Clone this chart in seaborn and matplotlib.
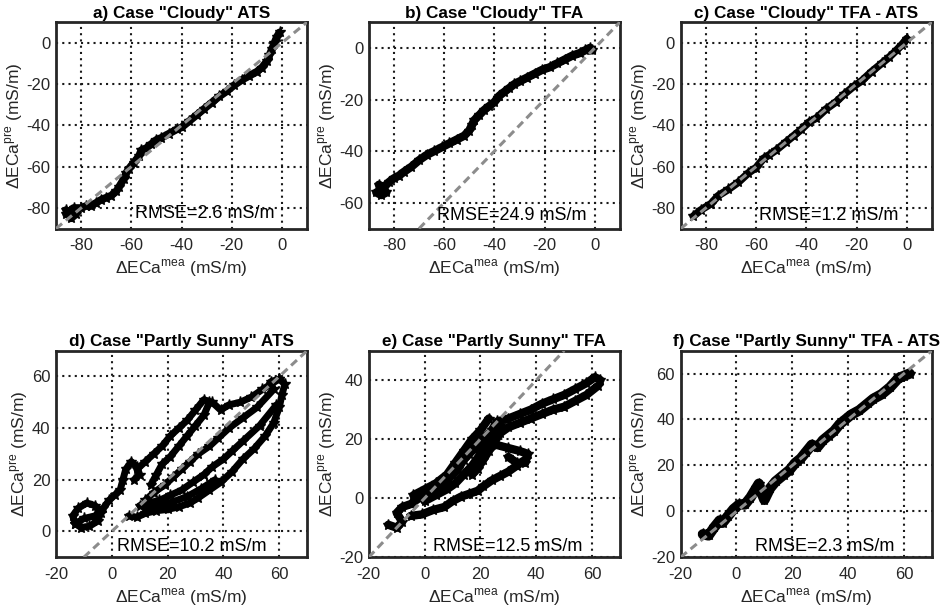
import matplotlib
matplotlib.use('Agg')
import matplotlib.pyplot as plt
import seaborn as sns
import pandas as pd

# --- data read off the reference (dEC measured vs. predicted, mS/m) ---
# a) Cloudy ATS
a_x = [-86, -84, -82, -86, -83, -80, -78, -76, -74, -72, -70, -68, -66, -65, -63, -62, -61,
       -59, -57, -56, -54, -52, -50, -48, -45, -42, -40, -37, -34, -31, -28, -25, -22, -19,
       -16, -13, -10, -8, -6, -5, -4, -3, -2, -1]
a_y = [-81, -85, -83, -83, -80, -80, -79, -79, -77.5, -76, -75, -74, -72, -70, -66, -63, -61,
       -58, -55, -52, -51, -49, -47, -46, -44, -42, -41, -38, -35, -32, -29, -26, -23.5, -20.5,
       -18, -16, -14, -12, -9, -6, -3, 0, 3, 5]

# b) Cloudy TFA
b_x = [-87, -85, -83, -86, -84, -82, -80, -78, -76, -73, -70, -67, -64, -61, -58, -55, -52,
       -50, -49, -48, -46, -44, -42, -40, -38, -36, -34, -32, -30, -27, -24, -21, -18, -15,
       -12, -9, -6, -4, -2, -1]
b_y = [-56, -57, -56, -53, -54, -52, -50.5, -49.5, -48, -46, -43.5, -41.5, -40, -38.5, -37,
       -35.5, -34, -32, -30, -28, -26, -24, -22.5, -21, -18.5, -17, -15.5, -14, -13, -11.5,
       -10, -8.5, -7.5, -6, -4.5, -3, -2, -1, 0, -1]

# c) Cloudy TFA - ATS
c_x = [-85, -82, -78, -75, -71, -67, -63, -60, -57, -55, -52, -48, -45, -42, -39, -36, -32,
       -28, -25, -21, -18, -14, -10, -7, -4, -2, 0]
c_y = [-84, -81, -78, -74, -71, -67.5, -63, -60.5, -56, -54.5, -52, -48, -45, -42, -38.5,
       -36.5, -32, -28.5, -25, -21, -18.5, -14, -10, -7, -3.5, -1, 2]

# d) Partly Sunny ATS (several loops -> segment ids)
d_x = [-13, -11, -8, -5, -4, -6, -9, -12, -14, -13, -10, -6, -3, -1, 1, 3, 4, 5, 7, 9, 10, 8,
       6, 9, 12, 16, 20, 24, 28, 31, 35, 39, 43, 47, 51, 55, 58, 60, 61, 62, 60, 57,
       59, 53, 47, 43, 40, 36, 33, 29, 25, 21, 17, 13, 10,
       58, 52, 47, 42, 38, 35, 31, 28, 25, 22, 19, 15, 12,
       9, 12, 15, 18, 21, 24, 27, 30, 33, 36, 39, 42, 46, 50, 54, 57, 60,
       35, 33, 30, 27, 24, 21, 18, 16, 14,
       12, 17, 22, 27, 32, 37]
d_y = [3, 1.5, 2, 4, 7, 10, 11, 9, 6, 3, 5, 6, 9, 12, 14, 16, 20, 24, 27, 25, 22, 20,
       6, 5.5, 7, 8, 8.5, 9.5, 11, 13, 16, 19, 23, 28, 32, 37, 42, 48, 53, 57, 59, 58,
       49, 41, 35, 31, 28, 25, 22, 19, 16, 14, 12, 11, 10,
       55, 48, 44, 40, 36, 33, 30, 27, 24, 21, 18, 15, 12,
       24, 27, 30, 33, 37, 40, 43, 47, 51, 50, 47, 49, 50, 52, 55, 57, 59,
       50, 45, 41, 37, 33, 29, 26, 22, 18,
       9, 10, 11.5, 13.5, 16.5, 20]
d_seg = [0] * 22 + [1] * 20 + [2] * 13 + [3] * 13 + [4] * 17 + [5] * 9 + [6] * 6

# e) Partly Sunny TFA
e_x = [-13, -10, -8, -10, -8, -5, -2, 1, 4, 7, 10, 12, 14, 16, 18, 20, 22, 24, 26, 30, 34, 38,
       42, 46, 50, 54, 58, 61, 63,
       62, 58, 54, 50, 46, 42, 38, 34, 30, 27, 25, 23, 21, 19, 17,
       -5, -1, 3, 7, 10, 13, 16, 19, 21, 24, 27, 30, 33, 36,
       22, 26, 30, 34, 37, 36, 33, 30,
       0, 4, 8, 11, 14, 17, 20, 23, 25, 28,
       -4, 0, 4, 8, 11, 14, 17, 20, 23]
e_y = [-9, -10, -8, -5, -3, -2, 0, 1.5, 3, 5, 8, 10, 13, 15, 17, 19, 21, 23, 26, 27, 28.5, 30,
       32, 33.5, 35, 37, 39, 41, 40,
       38, 35, 33, 31, 30, 28.5, 27, 25.5, 24, 22, 19, 16, 13, 10, 8,
       -6, -5.5, -4, -3, -1, 0.5, 1.5, 2.5, 4, 6, 7.5, 9, 11, 13,
       20, 18, 17, 16, 15, 12, 12, 14,
       -1, 1, 3, 5, 8, 11, 15, 19, 22, 24,
       1, 3, 5, 8, 12, 16, 20, 23, 27]
e_seg = [0] * 29 + [1] * 15 + [2] * 14 + [3] * 8 + [4] * 10 + [5] * 9

# f) Partly Sunny TFA - ATS
f_x = [-12, -10, -8, -6, -5, -3, -1, 1, 3, 5, 7, 8, 9, 10, 12, 14, 17, 19, 21, 23, 25, 27, 29,
       31, 33, 35, 37, 39, 41, 44, 47, 49, 52, 55, 58, 60, 62]
f_y = [-10, -10.5, -7, -4, -5, -2, 1, 3, 3, 6, 10, 12, 8, 5, 10, 13, 16, 18, 21, 23, 26, 29, 28,
       31, 33, 35, 38, 40, 42, 44, 47, 49, 51, 54, 58, 59, 60]

titles = ['a) Case "Cloudy" ATS', 'b) Case "Cloudy" TFA', 'c) Case "Cloudy" TFA - ATS',
          'd) Case "Partly Sunny" ATS', 'e) Case "Partly Sunny" TFA',
          'f) Case "Partly Sunny" TFA - ATS']
rmse_labels = ['RMSE=2.6 mS/m', 'RMSE=24.9 mS/m', 'RMSE=1.2 mS/m',
               'RMSE=10.2 mS/m', 'RMSE=12.5 mS/m', 'RMSE=2.3 mS/m']
xlims = [(-90, 10), (-90, 10), (-90, 10), (-20, 70), (-20, 70), (-20, 70)]
ylims = [(-90, 10), (-70, 10), (-90, 10), (-10, 70), (-20, 50), (-20, 70)]
xticks = [[-80, -60, -40, -20, 0]] * 3 + [[-20, 0, 20, 40, 60]] * 3
yticks = [[-80, -60, -40, -20, 0], [-60, -40, -20, 0], [-80, -60, -40, -20, 0],
          [0, 20, 40, 60], [-20, 0, 20, 40], [-20, 0, 20, 40, 60]]
# band thickness differs a bit from panel to panel
band_width = [5.5, 6.0, 5.5, 5.0, 6.0, 7.5]

sns.set_theme(style='white')
plt.rcParams['font.family'] = ['Liberation Sans', 'DejaVu Sans']
plt.rcParams['mathtext.fontset'] = 'custom'
plt.rcParams['mathtext.rm'] = 'Liberation Sans'
plt.rcParams['axes.unicode_minus'] = False

frames = [
    pd.DataFrame({'x': a_x, 'y': a_y, 'seg': 0}),
    pd.DataFrame({'x': b_x, 'y': b_y, 'seg': 0}),
    pd.DataFrame({'x': c_x, 'y': c_y, 'seg': 0}),
    pd.DataFrame({'x': d_x, 'y': d_y, 'seg': d_seg}),
    pd.DataFrame({'x': e_x, 'y': e_y, 'seg': e_seg}),
    pd.DataFrame({'x': f_x, 'y': f_y, 'seg': 0}),
]

# axes boxes in figure fractions (left, bottom, width, height)
lefts = [0.059, 0.389, 0.718]
bottoms = [0.627, 0.091]
text_pos = [(0.315, 0.072), (0.273, 0.063), (0.312, 0.065),
            (0.244, 0.053), (0.257, 0.053), (0.295, 0.05)]

fig = plt.figure(figsize=(9.48, 6.13), dpi=100)
dark = '#262626'

for i, df in enumerate(frames):
    ax = fig.add_axes([lefts[i % 3], bottoms[i // 3], 0.265, 0.337])
    sns.lineplot(data=df, x='x', y='y', units='seg', estimator=None, sort=False,
                 color='black', linewidth=band_width[i], marker='*', markersize=8,
                 markeredgecolor='black', markeredgewidth=1.0,
                 solid_joinstyle='round', solid_capstyle='round', ax=ax)
    # 1:1 line
    ax.axline((0, 0), slope=1, color='#8c8c8c', linestyle=(0, (2.6, 1.6)),
              linewidth=2.2, zorder=5)

    ax.set_xlim(*xlims[i])
    ax.set_ylim(*ylims[i])
    ax.set_xticks(xticks[i])
    ax.set_yticks(yticks[i])
    ax.grid(True, linestyle=(0, (1, 2)), color='#1a1a1a', linewidth=1.5)
    ax.set_axisbelow(True)
    ax.tick_params(direction='in', length=4, width=1, labelsize=12, colors=dark)
    ax.tick_params(axis='x', pad=7)
    ax.tick_params(axis='y', pad=4)
    for s in ax.spines.values():
        s.set_linewidth(2)
        s.set_color(dark)

    ax.set_xlabel('ΔECa$^{\\rm mea}$ (mS/m)', fontsize=12.5, color=dark, labelpad=3)
    ax.set_ylabel('ΔECa$^{\\rm pre}$ (mS/m)', fontsize=12.5, color=dark, labelpad=1)
    ax.set_title(titles[i], fontsize=12.3, fontweight='bold', pad=3, color='black')
    ax.text(text_pos[i][0], text_pos[i][1], rmse_labels[i], transform=ax.transAxes,
            fontsize=13, ha='left', va='center', color='black', zorder=6)

fig.savefig('out.png', dpi=100)
plt.close(fig)
